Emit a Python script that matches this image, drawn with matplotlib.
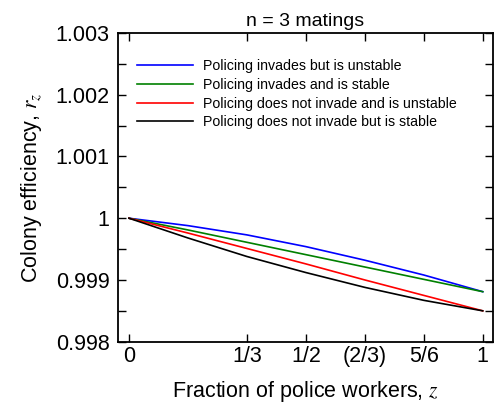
import matplotlib
matplotlib.use("Agg")
import matplotlib.pyplot as plt
from matplotlib.ticker import FixedLocator, MultipleLocator, FuncFormatter

plt.rcParams['font.family'] = ['Liberation Sans', 'DejaVu Sans']
plt.rcParams['mathtext.fontset'] = 'stix'

# Fraction of police workers
z = [0, 1/6, 1/3, 1/2, 2/3, 5/6, 1]

# Colony efficiency r_z for each case
r_invades_unstable = [1.0, 0.99988, 0.99973, 0.99954, 0.99932, 0.99908, 0.99881]
r_invades_stable = [1.0, 0.99981, 0.99961, 0.99941, 0.99921, 0.99901, 0.99881]
r_noinv_unstable = [1.0, 0.99976, 0.99951, 0.99926, 0.99900, 0.99875, 0.99850]
r_noinv_stable = [1.0, 0.99968, 0.99938, 0.99912, 0.99888, 0.99867, 0.99850]

labels = [
    'Policing invades but is unstable',
    'Policing invades and is stable',
    'Policing does not invade and is unstable',
    'Policing does not invade but is stable',
]
colors = ['blue', 'green', 'red', 'black']

xtick_vals = [0, 1/3, 1/2, 2/3, 5/6, 1]
xtick_labels = ['0', '1/3', '1/2', '(2/3)', '5/6', '1']

fig = plt.figure(figsize=(4.99, 4.05), dpi=100)
ax = fig.add_axes([0.2365, 0.1563, 0.7515, 0.7622])

series = [r_invades_unstable, r_invades_stable, r_noinv_unstable, r_noinv_stable]
for vals, lab, col in zip(series, labels, colors):
    ax.plot(z, vals, color=col, linewidth=1.2, label=lab)

ax.set_xlim(-0.031, 1.029)
ax.set_ylim(0.998, 1.003)

ax.xaxis.set_major_locator(FixedLocator(xtick_vals))
ax.set_xticklabels(xtick_labels)
ax.yaxis.set_major_locator(MultipleLocator(0.001))
ax.yaxis.set_minor_locator(MultipleLocator(0.0005))
ax.yaxis.set_major_formatter(FuncFormatter(lambda v, p: '%g' % round(v, 4)))

ax.tick_params(which='both', direction='in', top=True, right=True,
               length=6, width=1.0, labelsize=15.5)
ax.tick_params(axis='y', which='both', pad=6)
ax.tick_params(axis='x', pad=3)
for sp in ax.spines.values():
    sp.set_linewidth(1.3)

ax.set_xlabel('Fraction of police workers, $z$', fontsize=15.5, labelpad=9)
ax.set_ylabel('Colony efficiency, $r_z$', fontsize=15.5, labelpad=8)
ax.set_title('n = 3 matings', fontsize=14, pad=5)

ax.legend(loc='upper left', bbox_to_anchor=(0.05, 0.915), frameon=False,
          fontsize=10.2, handlelength=4.0, handletextpad=0.7,
          labelspacing=0.33, borderaxespad=0, borderpad=0)

fig.savefig('out.png', dpi=100)
